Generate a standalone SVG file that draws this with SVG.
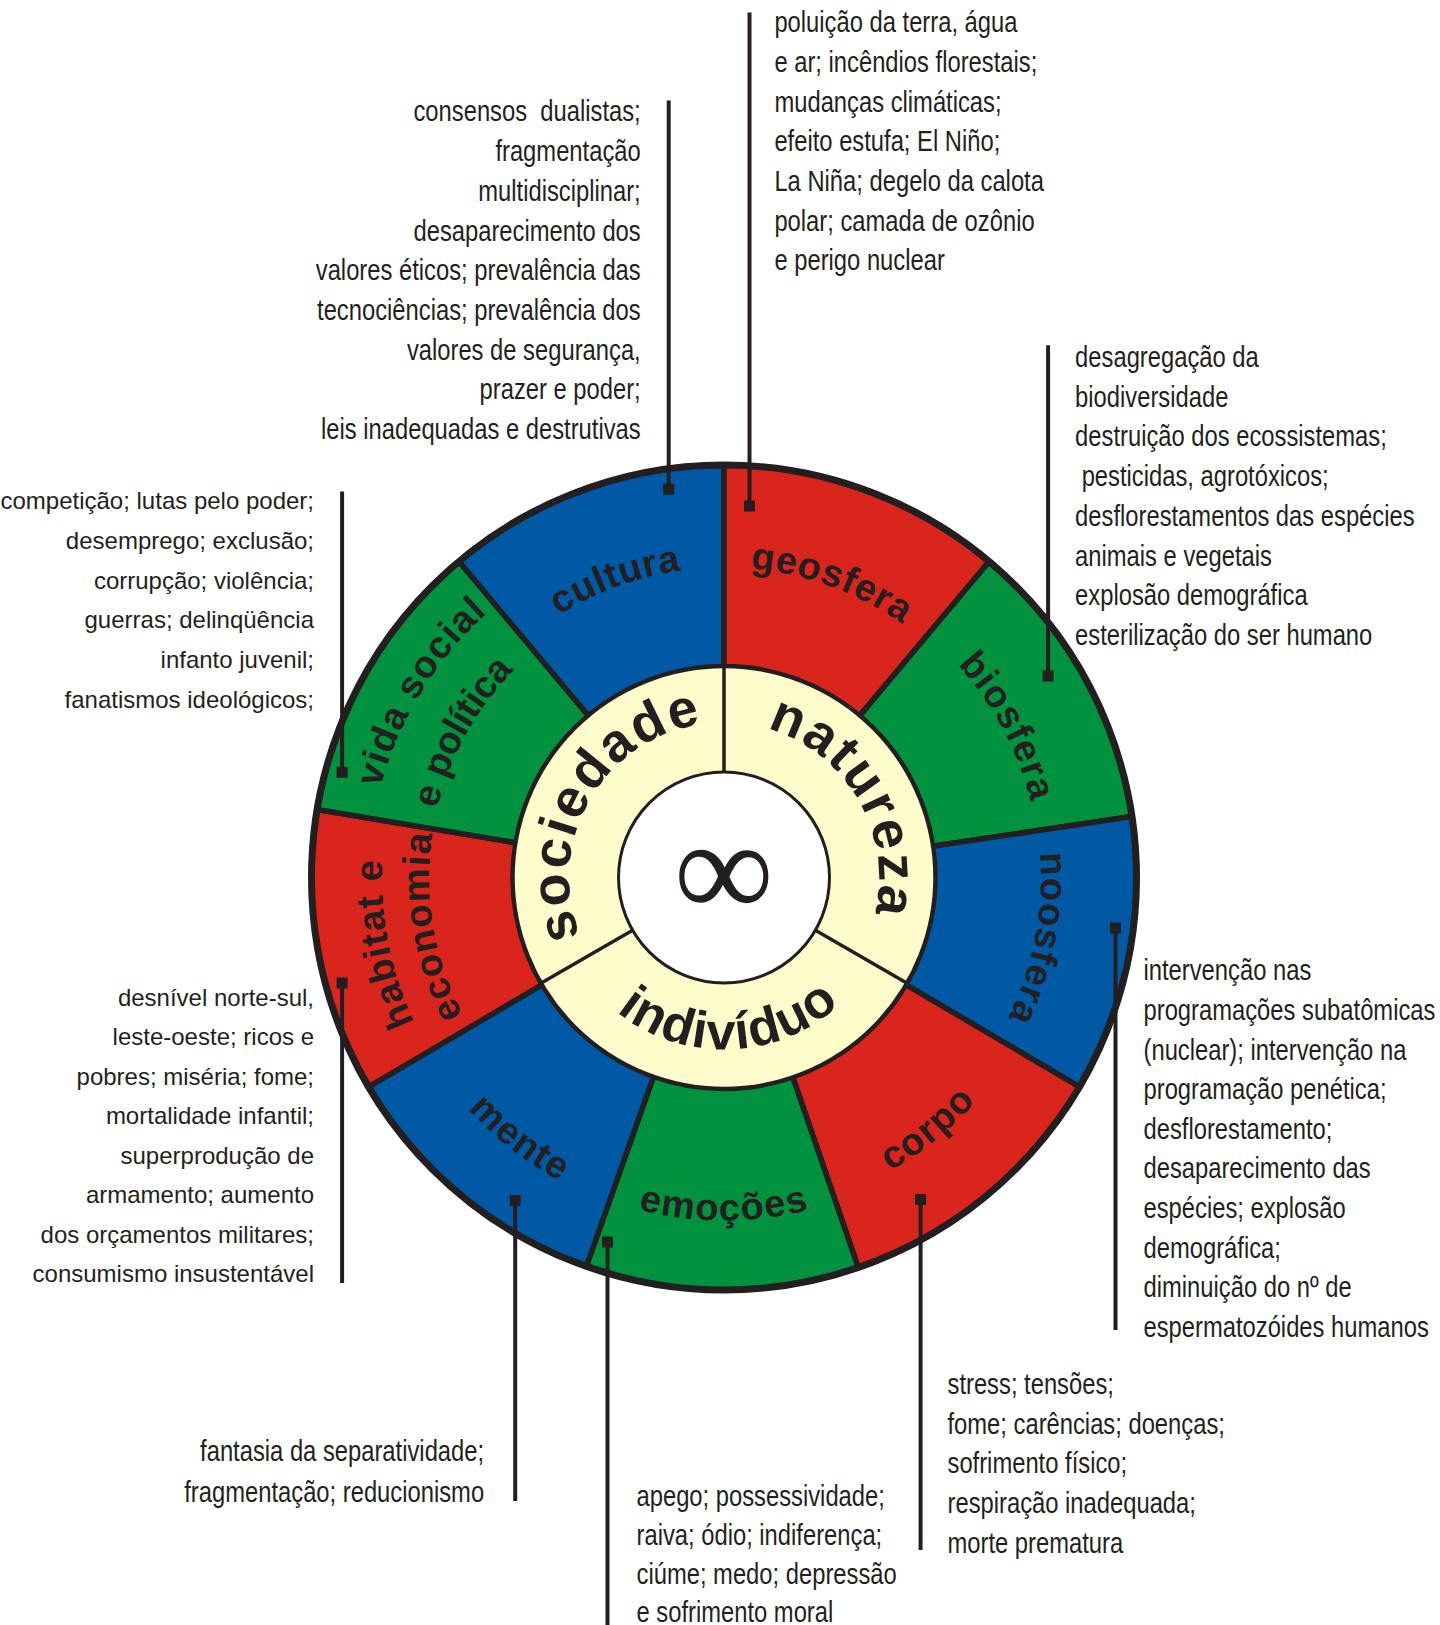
<svg xmlns="http://www.w3.org/2000/svg" width="1440" height="1625" viewBox="0 0 1440 1625">
<style>
.red{fill:#DA251D}.blue{fill:#0059A4}.green{fill:#00923F}
.sec{stroke:#231F20;stroke-width:5.5;stroke-linejoin:round}
.lab{font-family:"Liberation Sans",Arial,sans-serif;font-weight:bold;font-size:38px;fill:#231F20;letter-spacing:0.7px}
.bot{letter-spacing:1.3px}
.big{font-family:"Liberation Sans",Arial,sans-serif;font-weight:bold;font-size:54px;fill:#231F20;letter-spacing:2px}
.nar{font-family:"Liberation Sans",Arial,sans-serif;font-size:29px;fill:#231F20}
.wid{font-family:"Liberation Sans",Arial,sans-serif;font-size:24px;fill:#231F20}
.end{text-anchor:end}
.con line{stroke:#231F20;stroke-width:4}
.con rect{fill:#231F20}
</style>
<defs>
<path id="p-cultura" d="M 418.71 823.67 A 310 310 0 0 1 923.26 640.03"/>
<path id="p-geosfera" d="M 524.74 640.03 A 310 310 0 0 1 1029.29 823.67"/>
<path id="p-biosfera" d="M 735.03 561.69 A 316 316 0 0 1 991.98 1044.95"/>
<path id="p-noosfera" d="M 931.97 638.26 A 317 317 0 0 1 827.21 1177.23"/>
<path id="p-corpo" d="M 603.23 1192.12 A 337 337 0 0 0 1056.85 824.78"/>
<path id="p-emocoes" d="M 426.95 1049 A 343 343 0 0 0 1021.05 1049"/>
<path id="p-mente" d="M 382.36 829.49 A 345 345 0 0 0 853.24 1197.38"/>
<path id="p-habitat1" d="M 612.66 1200.87 A 342 342 0 0 1 499.63 619.39"/>
<path id="p-habitat2" d="M 620.69 1153.82 A 295 295 0 0 1 536.36 649.87"/>
<path id="p-vida1" d="M 412.02 1046.89 A 355 355 0 0 1 733.29 522.62"/>
<path id="p-vida2" d="M 471.13 1029.44 A 295 295 0 0 1 718.85 582.54"/>
<path id="p-sociedade" d="M 605.26 977.13 A 155 155 0 0 1 750.92 724.85"/>
<path id="p-natureza" d="M 697.08 724.85 A 155 155 0 0 1 842.74 977.13"/>
<path id="p-individuo" d="M 564.53 941.93 A 172 172 0 0 0 887.58 930.65"/>
</defs>

<g id="sector-cultura"><path class="blue sec" d="M 458.85 561.51 A 412.5 412.5 0 0 1 724 465 L 724 666.5 A 211 211 0 0 0 588.37 715.87 Z"/><text class="lab"><textPath href="#p-cultura" startOffset="50%" text-anchor="middle">cultura</textPath></text></g>
<g id="sector-geosfera"><path class="red sec" d="M 724 465 A 412.5 412.5 0 0 1 989.15 561.51 L 859.63 715.87 A 211 211 0 0 0 724 666.5 Z"/><text class="lab"><textPath href="#p-geosfera" startOffset="50%" text-anchor="middle">geosfera</textPath></text></g>
<g id="sector-biosfera"><path class="green sec" d="M 989.15 561.51 A 412.5 412.5 0 0 1 1131.97 816.53 L 932.68 846.31 A 211 211 0 0 0 859.63 715.87 Z"/><text class="lab bot"><textPath href="#p-biosfera" startOffset="50%" text-anchor="middle">biosfera</textPath></text></g>
<g id="sector-noosfera"><path class="blue sec" d="M 1131.97 816.53 A 412.5 412.5 0 0 1 1079.42 1086.86 L 905.8 984.59 A 211 211 0 0 0 932.68 846.31 Z"/><text class="lab bot"><textPath href="#p-noosfera" startOffset="50%" text-anchor="middle">noosfera</textPath></text></g>
<g id="sector-corpo"><path class="red sec" d="M 1079.42 1086.86 A 412.5 412.5 0 0 1 858.3 1267.53 L 792.7 1077 A 211 211 0 0 0 905.8 984.59 Z"/><text class="lab bot"><textPath href="#p-corpo" startOffset="50%" text-anchor="middle">corpo</textPath></text></g>
<g id="sector-emocoes"><path class="green sec" d="M 858.3 1267.53 A 412.5 412.5 0 0 1 586.3 1266.34 L 653.57 1076.4 A 211 211 0 0 0 792.7 1077 Z"/><text class="lab bot"><textPath href="#p-emocoes" startOffset="50%" text-anchor="middle">emoções</textPath></text></g>
<g id="sector-mente"><path class="blue sec" d="M 586.3 1266.34 A 412.5 412.5 0 0 1 368.58 1086.86 L 542.2 984.59 A 211 211 0 0 0 653.57 1076.4 Z"/><text class="lab bot"><textPath href="#p-mente" startOffset="50%" text-anchor="middle">mente</textPath></text></g>
<g id="sector-habitat"><path class="red sec" d="M 368.58 1086.86 A 412.5 412.5 0 0 1 317.16 809.42 L 515.89 842.67 A 211 211 0 0 0 542.2 984.59 Z"/><text class="lab bot"><textPath href="#p-habitat1" startOffset="50%" text-anchor="middle">habitat e</textPath></text><text class="lab bot"><textPath href="#p-habitat2" startOffset="50%" text-anchor="middle">economia</textPath></text></g>
<g id="sector-vida"><path class="green sec" d="M 317.16 809.42 A 412.5 412.5 0 0 1 458.85 561.51 L 588.37 715.87 A 211 211 0 0 0 515.89 842.67 Z"/><text class="lab bot"><textPath href="#p-vida1" startOffset="50%" text-anchor="middle">vida social</textPath></text><text class="lab" style="letter-spacing:-0.5px"><textPath href="#p-vida2" startOffset="50%" text-anchor="middle">e política</textPath></text></g>
<circle cx="724" cy="877.5" r="412.5" fill="none" stroke="#231F20" stroke-width="7"/>

<g id="ring-inner">
<circle cx="724" cy="877.5" r="211" fill="#FFFCCC" stroke="#231F20" stroke-width="3.5"/>
<line x1="724" y1="772" x2="724" y2="666.5" stroke="#231F20" stroke-width="3.5"/>
<line x1="815.37" y1="930.25" x2="906.73" y2="983" stroke="#231F20" stroke-width="3.5"/>
<line x1="632.63" y1="930.25" x2="541.27" y2="983" stroke="#231F20" stroke-width="3.5"/>
</g>
<g id="node-sociedade"><text class="big"><textPath href="#p-sociedade" startOffset="50%" text-anchor="middle">sociedade</textPath></text></g>
<g id="node-natureza"><text class="big"><textPath href="#p-natureza" startOffset="50%" text-anchor="middle">natureza</textPath></text></g>
<g id="node-individuo"><text class="big" style="font-size:52px;letter-spacing:1.5px"><textPath href="#p-individuo" startOffset="50%" text-anchor="middle">indivíduo</textPath></text></g>
<g id="node-center">
<circle cx="724" cy="877.5" r="105.5" fill="#FFFFFF" stroke="#231F20" stroke-width="3"/>
<text x="724" y="917" font-family="Liberation Serif, serif" font-size="140" text-anchor="middle" fill="#231F20">∞</text>
</g>

<g id="connectors" class="con">
<line x1="668.7" y1="100.6" x2="668.7" y2="489.3"/><rect x="663.2" y="483.8" width="11" height="11"/>
<line x1="749.5" y1="12.4" x2="749.5" y2="506"/><rect x="744" y="500.5" width="11" height="11"/>
<line x1="1048.1" y1="345.2" x2="1048.1" y2="676"/><rect x="1042.6" y="670.5" width="11" height="11"/>
<line x1="1115.5" y1="928" x2="1115.5" y2="1330"/><rect x="1110" y="922.5" width="11" height="11"/>
<line x1="920.6" y1="1199.5" x2="920.6" y2="1550"/><rect x="915.1" y="1194" width="11" height="11"/>
<line x1="607.5" y1="1242" x2="607.5" y2="1625"/><rect x="602" y="1236.5" width="11" height="11"/>
<line x1="515.2" y1="1200.5" x2="515.2" y2="1501"/><rect x="509.7" y="1195" width="11" height="11"/>
<line x1="342.1" y1="983" x2="342.1" y2="1283"/><rect x="336.6" y="977.5" width="11" height="11"/>
<line x1="342.1" y1="491.4" x2="342.1" y2="772.3"/><rect x="336.6" y="766.8" width="11" height="11"/>
</g>

<g id="text-cultura" transform="translate(640.7,0) scale(0.82,1)">
<text class="nar end" x="0" y="121.5">consensos&#160; dualistas;</text>
<text class="nar end" x="0" y="161.2">fragmentação</text>
<text class="nar end" x="0" y="200.9">multidisciplinar;</text>
<text class="nar end" x="0" y="240.6">desaparecimento dos</text>
<text class="nar end" x="0" y="280.3">valores éticos; prevalência das</text>
<text class="nar end" x="0" y="320">tecnociências; prevalência dos</text>
<text class="nar end" x="0" y="359.7">valores de segurança,</text>
<text class="nar end" x="0" y="399.4">prazer e poder;</text>
<text class="nar end" x="0" y="439.1">leis inadequadas e destrutivas</text>
</g>

<g id="text-geosfera" transform="translate(774.4,0) scale(0.82,1)">
<text class="nar" x="0" y="32.3">poluição da terra, água</text>
<text class="nar" x="0" y="72">e ar; incêndios florestais;</text>
<text class="nar" x="0" y="111.7">mudanças climáticas;</text>
<text class="nar" x="0" y="151.4">efeito estufa; El Niño;</text>
<text class="nar" x="0" y="191.1">La Niña; degelo da calota</text>
<text class="nar" x="0" y="230.8">polar; camada de ozônio</text>
<text class="nar" x="0" y="270.5">e perigo nuclear</text>
</g>

<g id="text-biosfera" transform="translate(1075.1,0) scale(0.82,1)">
<text class="nar" x="0" y="367.1">desagregação da</text>
<text class="nar" x="0" y="406.8">biodiversidade</text>
<text class="nar" x="0" y="446.5">destruição dos ecossistemas;</text>
<text class="nar" x="8" y="486.2">pesticidas, agrotóxicos;</text>
<text class="nar" x="0" y="525.9">desflorestamentos das espécies</text>
<text class="nar" x="0" y="565.6">animais e vegetais</text>
<text class="nar" x="0" y="605.3">explosão demográfica</text>
<text class="nar" x="0" y="645">esterilização do ser humano</text>
</g>

<g id="text-noosfera" transform="translate(1143.5,0) scale(0.82,1)">
<text class="nar" x="0" y="980.4">intervenção nas</text>
<text class="nar" x="0" y="1020">programações subatômicas</text>
<text class="nar" x="0" y="1059.6">(nuclear); intervenção na</text>
<text class="nar" x="0" y="1099.2">programação penética;</text>
<text class="nar" x="0" y="1138.8">desflorestamento;</text>
<text class="nar" x="0" y="1178.4">desaparecimento das</text>
<text class="nar" x="0" y="1218">espécies; explosão</text>
<text class="nar" x="0" y="1257.6">demográfica;</text>
<text class="nar" x="0" y="1297.2">diminuição do nº de</text>
<text class="nar" x="0" y="1336.8">espermatozóides humanos</text>
</g>

<g id="text-corpo" transform="translate(947.5,0) scale(0.82,1)">
<text class="nar" x="0" y="1394">stress; tensões;</text>
<text class="nar" x="0" y="1433.7">fome; carências; doenças;</text>
<text class="nar" x="0" y="1473.3">sofrimento físico;</text>
<text class="nar" x="0" y="1513">respiração inadequada;</text>
<text class="nar" x="0" y="1552.6">morte prematura</text>
</g>

<g id="text-emocoes" transform="translate(636.5,0) scale(0.82,1)">
<text class="nar" x="0" y="1506">apego; possessividade;</text>
<text class="nar" x="0" y="1545">raiva; ódio; indiferença;</text>
<text class="nar" x="0" y="1584">ciúme; medo; depressão</text>
<text class="nar" x="0" y="1622">e sofrimento moral</text>
</g>

<g id="text-mente" transform="translate(484.1,0) scale(0.82,1)">
<text class="nar end" x="0" y="1461.4">fantasia da separatividade;</text>
<text class="nar end" x="0" y="1501.8">fragmentação; reducionismo</text>
</g>

<g id="text-habitat">
<text class="wid end" x="314" y="1005.5">desnível norte-sul,</text>
<text class="wid end" x="314" y="1045">leste-oeste; ricos e</text>
<text class="wid end" x="314" y="1084.6">pobres; miséria; fome;</text>
<text class="wid end" x="314" y="1124.1">mortalidade infantil;</text>
<text class="wid end" x="314" y="1163.7">superprodução de</text>
<text class="wid end" x="314" y="1203.2">armamento; aumento</text>
<text class="wid end" x="314" y="1242.8">dos orçamentos militares;</text>
<text class="wid end" x="314" y="1282.3">consumismo insustentável</text>
</g>

<g id="text-vida">
<text class="wid end" x="314" y="509">competição; lutas pelo poder;</text>
<text class="wid end" x="314" y="548.8">desemprego; exclusão;</text>
<text class="wid end" x="314" y="588.6">corrupção; violência;</text>
<text class="wid end" x="314" y="628.4">guerras; delinqüência</text>
<text class="wid end" x="314" y="668.2">infanto juvenil;</text>
<text class="wid end" x="314" y="708">fanatismos ideológicos;</text>
</g>
</svg>
